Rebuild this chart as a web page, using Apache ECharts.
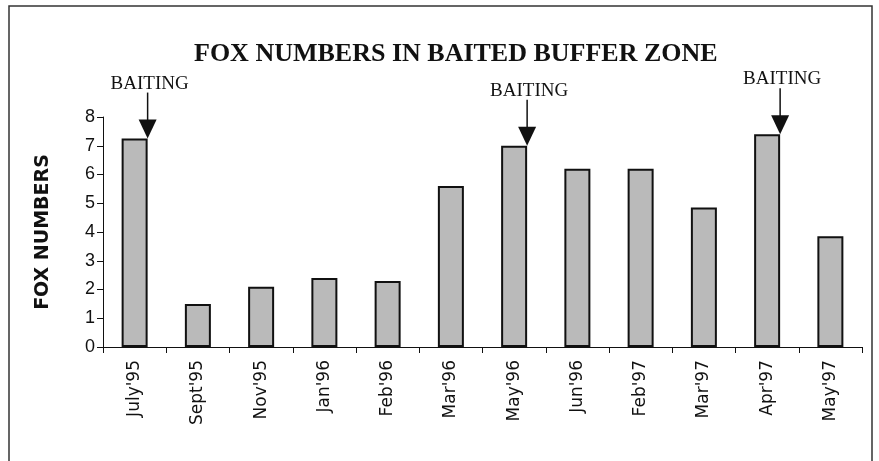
<!DOCTYPE html>
<html>
<head>
    <meta charset="utf-8">
    <title>Fox numbers in baited buffer zone</title>
    <script src="https://cdn.jsdelivr.net/npm/echarts@6/dist/echarts.min.js"></script>
</head>
<style>
    html, body { margin: 0; padding: 0; background: #fff; }
    #main { width: 879px; height: 461px; }
</style>
<body>
<div id="main"></div>
<script>
    // data
    var months = ["July'95", "Sept'95", "Nov'95", "Jan'96", "Feb'96", "Mar'96",
                  "May'96", "Jun'96", "Feb'97", "Mar'97", "Apr'97", "May'97"];
    var foxCount = [7.25, 1.5, 2.1, 2.4, 2.3, 5.6, 7.0, 6.2, 6.2, 4.85, 7.4, 3.85];
    var baitIdx = [0, 6, 10];          // months where baiting took place
    var baitText = ['BAITING', 'BAITING', 'BAITING'];

    var baitData = [];
    for (var i = 0; i < baitIdx.length; i++) {
        baitData.push([baitIdx[i], foxCount[baitIdx[i]], baitText[i]]);
    }

    var myChart = echarts.init(document.getElementById('main'));

    // arrow pointing down on the right edge of the bar
    function drawArrow(params, api) {
        var tip = api.coord([api.value(0), api.value(1)]);
        var x = tip[0] + 13, y = tip[1];
        return {
            type: 'group',
            children: [
                {type: 'line', shape: {x1: x, y1: y - 46, x2: x, y2: y - 18},
                    style: {stroke: '#111', lineWidth: 1.5}},
                {type: 'polygon', shape: {points: [[x - 9, y - 19], [x + 9, y - 19], [x, y]]},
                    style: {fill: '#111'}},
                {type: 'text', x: x + 2, y: y - 55,
                    style: {text: api.value(2), fill: '#111', font: '19px "Liberation Serif"',
                        align: 'center', verticalAlign: 'middle'}}
            ]
        };
    }

    var option = {
        backgroundColor: '#fff',
        animation: false,
        title: {
            text: 'FOX NUMBERS IN BAITED BUFFER ZONE',
            left: 189, top: 36,
            textStyle: {fontFamily: 'Liberation Serif', fontWeight: 'bold', fontSize: 26, color: '#111'}
        },
        graphic: [{
            type: 'rect', silent: true,
            shape: {x: 9, y: 6, width: 863, height: 470},
            style: {fill: 'none', stroke: '#333', lineWidth: 1.5}
        }],
        grid: {left: 103, right: 17, top: 117, bottom: 114},
        xAxis: {
            type: 'category',
            data: months,
            axisLine: {lineStyle: {color: '#111', width: 1}},
            axisTick: {show: true, length: 6, lineStyle: {color: '#111'}},
            axisLabel: {rotate: 90, margin: 13, color: '#111', fontFamily: 'DejaVu Sans', fontSize: 17}
        },
        yAxis: {
            type: 'value',
            min: 0, max: 8, interval: 1,
            name: 'FOX NUMBERS',
            nameLocation: 'middle',
            nameGap: 50,
            nameTextStyle: {fontFamily: 'DejaVu Sans', fontWeight: 'bold', fontSize: 19, color: '#111'},
            axisLine: {show: true, lineStyle: {color: '#111', width: 1}},
            axisTick: {show: true, length: 6, lineStyle: {color: '#111'}},
            axisLabel: {margin: 8, color: '#111', fontFamily: 'Liberation Sans', fontSize: 18},
            splitLine: {show: false}
        },
        series: [{
            type: 'bar',
            data: foxCount,
            barWidth: 26,
            itemStyle: {color: '#bababa', borderColor: '#111', borderWidth: 2}
        }, {
            type: 'custom',
            data: baitData,
            renderItem: drawArrow,
            clip: false,
            z: 5
        }]
    };
    myChart.setOption(option);
</script>
</body>
</html>
